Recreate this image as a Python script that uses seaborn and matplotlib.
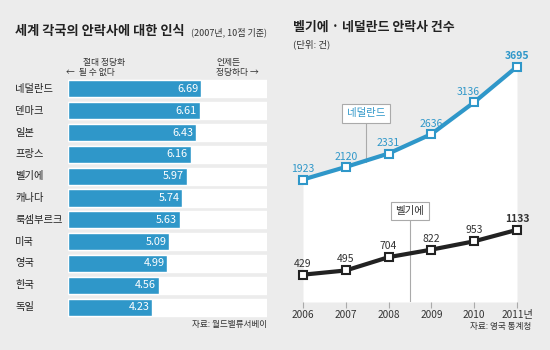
import numpy as np
import pandas as pd
import seaborn as sns
import matplotlib.pyplot as plt

# 데이터
countries = ['네덜란드', '덴마크', '일본', '프랑스', '벨기에', '캐나다',
             '룩셈부르크', '미국', '영국', '한국', '독일']
scores = [6.69, 6.61, 6.43, 6.16, 5.97, 5.74, 5.63, 5.09, 4.99, 4.56, 4.23]
years = [2006, 2007, 2008, 2009, 2010, 2011]
year_labels = ['2006', '2007', '2008', '2009', '2010', '2011년']
netherlands = [1923, 2120, 2331, 2636, 3136, 3695]
belgium = [429, 495, 704, 822, 953, 1133]

BG = '#ececec'
BLUE = '#2f97c9'
DARK = '#222222'

sns.set_theme(style='white')
plt.rcParams['font.family'] = ['Noto Sans CJK KR', 'DejaVu Sans']
plt.rcParams['axes.unicode_minus'] = False

fig = plt.figure(figsize=(5.5, 3.5), dpi=100, facecolor=BG)
W, H = 550, 350


def fx(px):
    return px / W


def fy(py):
    return 1 - py / H


# ---- 왼쪽: 막대 그래프 ----
ax1 = fig.add_axes([fx(68), fy(318), fx(199), 240 / H])
ax1.set_facecolor('none')
df = pd.DataFrame({'country': countries, 'score': scores, 'full': [10] * len(countries)})
sns.barplot(data=df, x='full', y='country', color='white', saturation=1,
            width=0.78, ax=ax1)
sns.barplot(data=df, x='score', y='country', color=BLUE, saturation=1,
            width=0.78, ax=ax1)
ax1.set_xlim(0, 10)
ax1.set(xlabel='', ylabel='', xticks=[], yticks=[])
sns.despine(ax=ax1, left=True, bottom=True)
for i, (c, s) in enumerate(zip(countries, scores)):
    ax1.text(-0.266, i, c, transform=ax1.get_yaxis_transform(),
             ha='left', va='center', fontsize=7.4, color='#222222')
    ax1.annotate(f'{s:.2f}', (s, i), xytext=(-2, 0), textcoords='offset points',
                 ha='right', va='center', fontsize=7.8, color='white')

fig.text(fx(15), fy(31), '세계 각국의 안락사에 대한 인식', fontsize=9.5,
         fontweight='bold', ha='left', va='center', color='#222222')
fig.text(fx(191), fy(32), '(2007년, 10점 기준)', fontsize=6.5,
         ha='left', va='center', color='#333333')
fig.text(fx(83), fy(63), '절대 정당화', fontsize=6.3, ha='left', va='center', color='#333333')
fig.text(fx(66), fy(72), '←  될 수 없다', fontsize=6.3, ha='left', va='center', color='#333333')
fig.text(fx(216), fy(63), '언제든', fontsize=6.3, ha='left', va='center', color='#333333')
fig.text(fx(216), fy(72), '정당하다 →', fontsize=6.3, ha='left', va='center', color='#333333')
fig.text(fx(267), fy(325), '자료: 월드밸류서베이', fontsize=6.2, ha='right',
         va='center', color='#333333')

# ---- 오른쪽: 꺾은선 그래프 ----
ax2 = fig.add_axes([fx(303), fy(302), fx(214), 254.8 / H])
ax2.set_facecolor('none')
ax2.fill_between(years, netherlands, 0, color='white', lw=0, zorder=0)
ax2.set_xlim(2006, 2011)
ax2.set_ylim(0, 4000)

# 라벨 박스 연결선
ax2.plot([2007.47, 2007.47], [2200, 2900], color='#aaaaaa', lw=0.8, zorder=1)
ax2.plot([2008.5, 2008.5], [0, 1380], color='#aaaaaa', lw=0.8, zorder=1)

sns.lineplot(x=years, y=netherlands, color=BLUE, lw=3, marker='s', markersize=6,
             markerfacecolor='white', markeredgecolor=BLUE, markeredgewidth=1.5,
             clip_on=False, ax=ax2, zorder=3)
sns.lineplot(x=years, y=belgium, color=DARK, lw=3, marker='s', markersize=6,
             markerfacecolor='white', markeredgecolor=DARK, markeredgewidth=1.5,
             clip_on=False, ax=ax2, zorder=3)

nl_dx = [0, 0, 0, 0, -4, 0]
for x, v, dx in zip(years, netherlands, nl_dx):
    ax2.annotate(str(v), (x, v), xytext=(dx, 7.5), textcoords='offset points',
                 ha='center', va='center', fontsize=7.5, color=BLUE,
                 fontweight='bold' if v == netherlands[-1] else 'normal')
for x, v in zip(years, belgium):
    ax2.annotate(str(v), (x, v), xytext=(0, 8), textcoords='offset points',
                 ha='center', va='center', fontsize=7.5, color='#333333',
                 fontweight='bold' if v == belgium[-1] else 'normal')

ax2.text(2007.47, 2960, '네덜란드', ha='center', va='center', fontsize=7.5,
         color=BLUE, bbox=dict(boxstyle='square,pad=0.45', fc='white', ec='#aaaaaa', lw=0.8))
ax2.text(2008.5, 1430, '벨기에', ha='center', va='center', fontsize=7.5,
         color='#333333', bbox=dict(boxstyle='square,pad=0.4', fc='white', ec='#aaaaaa', lw=0.8))

ax2.set_xticks(years)
ax2.set_xticklabels(year_labels, fontsize=7.3, color='#333333')
ax2.set_yticks([])
ax2.tick_params(axis='x', length=4, width=0.8, color='#aaaaaa', pad=1.5, bottom=True)
ax2.set(xlabel='', ylabel='')
sns.despine(ax=ax2, left=True, bottom=True)

fig.text(fx(293), fy(27), '벨기에 · 네덜란드 안락사 건수', fontsize=9.3,
         fontweight='bold', ha='left', va='center', color='#222222')
fig.text(fx(293), fy(44), '(단위: 건)', fontsize=6.8, ha='left', va='center', color='#333333')
fig.text(fx(531), fy(327), '자료: 영국 통계청', fontsize=6.2, ha='right',
         va='center', color='#333333')

fig.savefig('out.png', dpi=100, facecolor=BG)
